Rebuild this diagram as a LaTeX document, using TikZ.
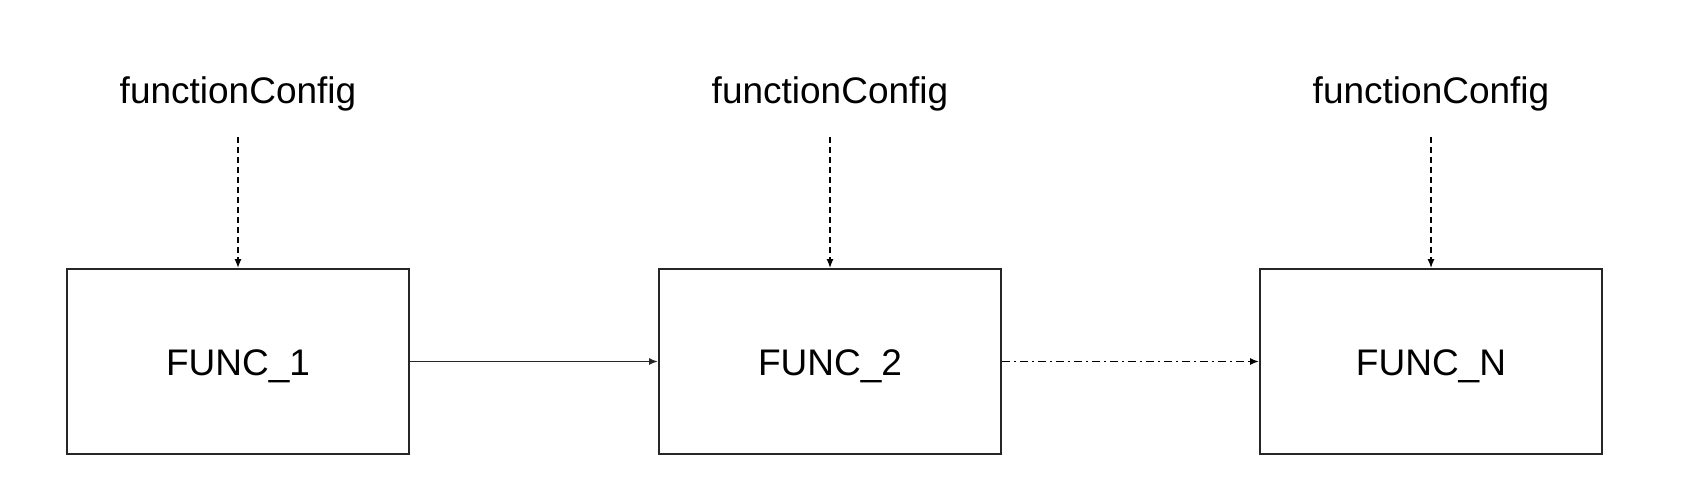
\documentclass[tikz,border=0pt]{standalone}
\usepackage{fontspec}
\setmainfont{Liberation Sans}
\usetikzlibrary{arrows.meta}
\begin{document}
\begin{tikzpicture}[x=1pt,y=-1pt,
  funcbox/.style={draw=black!85, line width=1.8pt, minimum width=342pt, minimum height=185pt, inner sep=0pt,
    text height=27pt, text depth=0pt, font=\fontsize{37}{44}\selectfont},
  cfglabel/.style={anchor=base, inner sep=0pt, font=\fontsize{37}{44}\selectfont},
  tip/.style={-{Latex[length=9pt,width=7pt]}},
  cfgarrow/.style={tip, line width=1.5pt, dash pattern=on 6pt off 4pt},
  flow/.style={tip, line width=1.9pt, draw=black!85},
  dashdotflow/.style={tip, line width=1.8pt, dash pattern=on 8pt off 4pt on 2pt off 4pt}]
\useasboundingbox (0,0) rectangle (1696,484);
\node[funcbox] (f1) at (238,361.5) {FUNC\_1};
\node[funcbox] (f2) at (830,361.5) {FUNC\_2};
\node[funcbox] (fn) at (1431,361.5) {FUNC\_N};
\node[cfglabel] (c1) at (238,103) {functionConfig};
\node[cfglabel] (c2) at (830,103) {functionConfig};
\node[cfglabel] (cn) at (1431,103) {functionConfig};
\coordinate (s1) at (238,137);
\coordinate (s2) at (830,137);
\coordinate (sn) at (1431,137);
\draw[cfgarrow] (s1) -- (f1.north);
\draw[cfgarrow] (s2) -- (f2.north);
\draw[cfgarrow] (sn) -- (fn.north);
\draw[flow] (f1.east) -- (f2.west);
\draw[dashdotflow] (f2.east) -- (fn.west);
\end{tikzpicture}
\end{document}
